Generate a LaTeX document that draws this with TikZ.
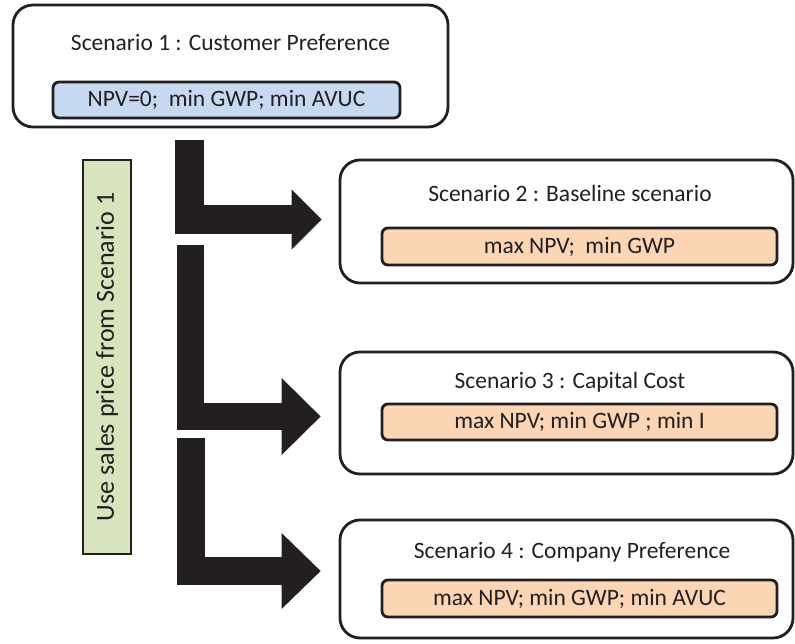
\documentclass[tikz,border=0pt]{standalone}
\usepackage{fontspec}
\setmainfont{Carlito}
\usetikzlibrary{arrows.meta}
\definecolor{ink}{HTML}{231F20}
\definecolor{goalblue}{HTML}{C6D9F1}
\definecolor{goalorange}{HTML}{FCD5B5}
\definecolor{notegreen}{HTML}{D7E4BD}

\begin{document}
\begin{tikzpicture}[x=1pt, y=-1pt,
    scenbox/.style={draw=ink, line width=2.8pt, rounded corners=20pt, minimum width=453pt},
    goalbox/.style={draw=ink, line width=2.8pt, rounded corners=6pt, minimum width=395pt,
      minimum height=37pt, text=ink, font=\fontsize{23.5}{28}\selectfont},
    scentitle/.style={text=ink, font=\fontsize{23.5}{28}\selectfont},
    fatarrow/.style={draw=ink, line width=#1, line join=miter}]
      \useasboundingbox (0,0) rectangle (795,644);

      % scenario 1
      \node [scenbox, minimum width=435pt, minimum height=122pt] (s1) at (230.5,66) {};
      \node [scentitle] (t1) at (230.5,43) {Scenario 1 : Customer Preference};
      \node [goalbox, fill=goalblue, minimum width=347pt, minimum height=36pt] (g1) at (226.5,100)
        {NPV=0;\ \ min GWP; min AVUC};

      % scenarios 2 to 4
      \node [scenbox, minimum height=123pt] (s2) at (566.5,221.5) {};
      \node [scentitle] (t2) at (570,193) {Scenario 2 : Baseline scenario};
      \node [goalbox, fill=goalorange] (g2) at (579.5,246.5) {max NPV;\ \ min GWP};

      \node [scenbox, minimum height=122pt] (s3) at (566.5,413) {};
      \node [scentitle] (t3) at (570,382) {Scenario 3 : Capital Cost};
      \node [goalbox, fill=goalorange, minimum height=36pt] (g3) at (579.5,422) {max NPV; min GWP ; min I};

      \node [scenbox, minimum height=118pt] (s4) at (566.5,579) {};
      \node [scentitle] (t4) at (572,552) {Scenario 4 : Company Preference};
      \node [goalbox, fill=goalorange] (g4) at (579.5,598.5) {max NPV; min GWP; min AVUC};

      % sales price note
      \node [draw=ink, line width=2.8pt, fill=notegreen, rotate=90, minimum width=394pt,
        minimum height=48pt, text=ink, font=\fontsize{26}{30}\selectfont] (note) at (107,357)
        {Use sales price from Scenario 1};

      % fat arrows
      \coordinate (fork1) at (189.5,140);
      \coordinate (fork2) at (190.5,245);
      \coordinate (fork3) at (190.5,438);
      \draw [fatarrow=29pt, -{Triangle[length=30pt,width=60pt,line width=0pt]}]
        (fork1) |- ([xshift=-17pt,yshift=2pt]s2.west);
      \draw [fatarrow=27pt, -{Triangle[length=39pt,width=77pt,line width=0pt]}]
        (fork2) |- ([xshift=-18pt,yshift=-3.5pt]s3.west);
      \draw [fatarrow=28pt, -{Triangle[length=39pt,width=76pt,line width=0pt]}]
        (fork3) |- ([xshift=-18pt,yshift=8pt]s4.west);
\end{tikzpicture}
\end{document}
